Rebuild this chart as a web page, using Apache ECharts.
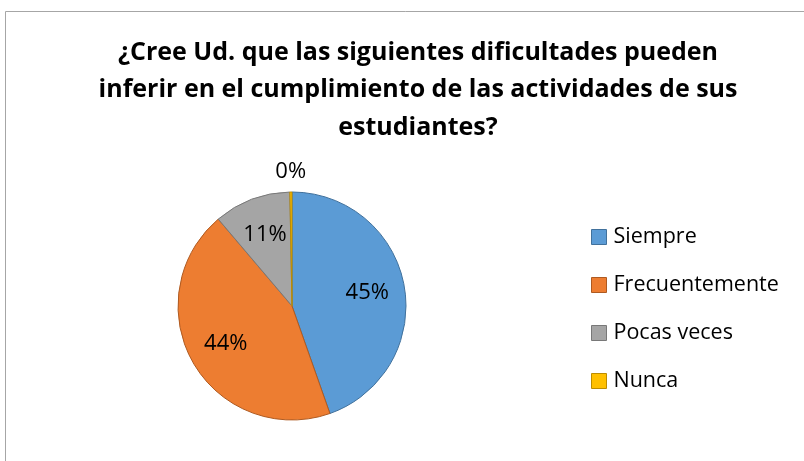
<!DOCTYPE html>
<html><head><meta charset="utf-8">
<script src="https://cdn.jsdelivr.net/npm/echarts@6/dist/echarts.min.js"></script>
<style>html,body{margin:0;padding:0;background:#fff}#c{width:804px;height:461px}</style>
</head><body><div id="c"></div>
<script>
const titleLines = ['¿Cree Ud. que las siguientes dificultades pueden', 'inferir en el cumplimiento de las actividades de sus', 'estudiantes?'];
const categories = ['Siempre', 'Frecuentemente', 'Pocas veces', 'Nunca'];
const values = [44.6, 44.2, 10.9, 0.3];
const colors = ['#5B9BD5', '#ED7D31', '#A5A5A5', '#FFC000'];
const borders = ['#41719C', '#AE5A21', '#787878', '#BC8C00'];

const CX = 292, CY = 306, R = 114;
const FONT = 'Open Sans';
const chart = echarts.init(document.getElementById('c'));
chart.setOption({
  animation: false,
  graphic: [{type: 'rect', shape: {x: 5.5, y: 11.5, width: 900, height: 600}, style: {fill: 'none', stroke: '#A6A6A6', lineWidth: 1}, silent: true, z: -1}],
  title: {
    text: titleLines.join('\n'), left: 418, top: 34, textAlign: 'center', padding: 0,
    textStyle: {fontFamily: FONT, fontWeight: 'bold', fontSize: 25, lineHeight: 37.5, color: '#000'}
  },
  legend: {
    orient: 'vertical', left: 586, top: 221, itemWidth: 15, itemHeight: 15, itemGap: 26,
    icon: 'rect',
    textStyle: {fontFamily: FONT, fontSize: 21.5, lineHeight: 22, color: '#000', padding: [0,0,0,2]},
    data: categories.map((c, i) => ({name: c, itemStyle: {color: colors[i], borderColor: borders[i], borderWidth: 1}}))
  },
  series: [{
    type: 'pie', center: [CX, CY], radius: R, startAngle: 90, clockwise: true,
    data: categories.map((c, i) => ({name: c, value: values[i], itemStyle: {color: colors[i], borderColor: borders[i], borderWidth: 1}})),
    label: {show: true, position: 'inside', fontFamily: FONT, fontSize: 22, color: '#000',
      formatter: p => Math.round(p.value) + '%'},
    labelLine: {show: false},
    emphasis: {disabled: true},
    labelLayout: function (p) {
      const r = p.labelRect;
      const lx = r.x + r.width / 2, ly = r.y + r.height / 2;
      const dx = lx - CX, dy = ly - CY;
      const d = Math.sqrt(dx * dx + dy * dy) || 1;
      const v = values[p.dataIndex];
      const target = v < 2 ? R + 20 : R * 0.67;
      return {x: CX + dx / d * target, y: CY + dy / d * target, align: 'center', verticalAlign: 'middle'};
    }
  }]
});
</script></body></html>
